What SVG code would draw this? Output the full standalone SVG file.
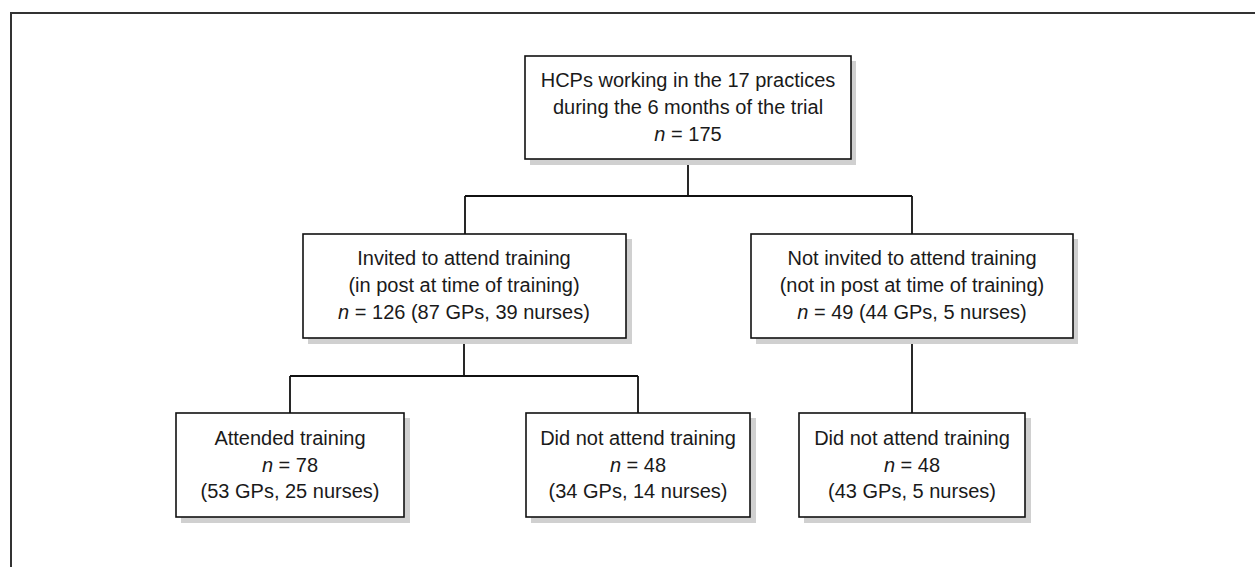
<svg xmlns="http://www.w3.org/2000/svg" width="1255" height="567" viewBox="0 0 1255 567">
<style>
.frame{fill:none;stroke:#333;stroke-width:2}
.box{fill:#fff;stroke:#111;stroke-width:1.6}
.shadow{fill:#d0d0d0}
.conn{fill:none;stroke:#111;stroke-width:1.8}
text{font-family:"Liberation Sans",Arial,sans-serif;font-size:20px;fill:#1a1a1a;text-anchor:middle}
.i{font-style:italic}
</style>
<rect width="1255" height="567" fill="#fff"/>
<path class="frame" d="M11,567 V13 H1255"/>
<g id="connectors">
<path class="conn" d="M688,159 V196 M465,196 H912 M465,196 V234 M912,196 V234"/>
<path class="conn" d="M464,338 V376 M290,376 H638 M290,376 V413 M638,376 V413"/>
<path class="conn" d="M912,338 V413"/>
</g>
<g id="n_top">
<rect class="shadow" x="530" y="61" width="326" height="104"/>
<rect class="box" x="525" y="56" width="326" height="103"/>
<text x="688" y="87">HCPs working in the 17 practices</text>
<text x="688" y="114">during the 6 months of the trial</text>
<text x="688" y="141"><tspan class="i">n</tspan> = 175</text>
</g>
<g id="n_invited">
<rect class="shadow" x="308" y="239" width="324" height="105"/>
<rect class="box" x="303" y="234" width="323" height="104"/>
<text x="464" y="265">Invited to attend training</text>
<text x="464" y="292">(in post at time of training)</text>
<text x="464" y="319"><tspan class="i">n</tspan> = 126 (87 GPs, 39 nurses)</text>
</g>
<g id="n_notinvited">
<rect class="shadow" x="756" y="239" width="322" height="105"/>
<rect class="box" x="751" y="234" width="322" height="104"/>
<text x="912" y="265">Not invited to attend training</text>
<text x="912" y="292">(not in post at time of training)</text>
<text x="912" y="319"><tspan class="i">n</tspan> = 49 (44 GPs, 5 nurses)</text>
</g>
<g id="n_attended">
<rect class="shadow" x="181" y="418" width="229" height="105"/>
<rect class="box" x="176" y="413" width="228" height="104"/>
<text x="290" y="445">Attended training</text>
<text x="290" y="472"><tspan class="i">n</tspan> = 78</text>
<text x="290" y="498">(53 GPs, 25 nurses)</text>
</g>
<g id="n_didnot1">
<rect class="shadow" x="531" y="418" width="225" height="105"/>
<rect class="box" x="526" y="413" width="224" height="104"/>
<text x="638" y="445">Did not attend training</text>
<text x="638" y="472"><tspan class="i">n</tspan> = 48</text>
<text x="638" y="498">(34 GPs, 14 nurses)</text>
</g>
<g id="n_didnot2">
<rect class="shadow" x="804" y="418" width="227" height="105"/>
<rect class="box" x="799" y="413" width="226" height="104"/>
<text x="912" y="445">Did not attend training</text>
<text x="912" y="472"><tspan class="i">n</tspan> = 48</text>
<text x="912" y="498">(43 GPs, 5 nurses)</text>
</g>
</svg>
